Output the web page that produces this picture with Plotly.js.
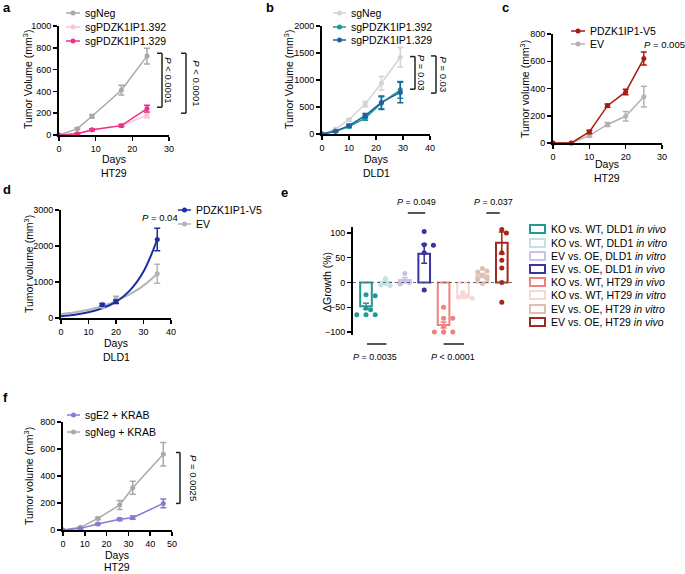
<!DOCTYPE html>
<html><head><meta charset="utf-8">
<script src="https://cdn.plot.ly/plotly-3.0.1.min.js"></script>
<style>html,body{margin:0;padding:0;background:#fff}#chart{width:685px;height:574px}</style>
</head><body><div id="chart"></div>
<script>
// ================= DATA =================
// Panel a – HT29, knockout
const aDays = [0, 5, 9, 17, 24];
const aNeg = [0, 58, 172, 411, 724];
const aNegErr = [0, 8, 15, 45, 72];
const a392 = [0, 10, 45, 88, 180];
const a392Err = [0, 4, 8, 12, 25];
const a329 = [0, 12, 49, 86, 242];
const a329Err = [0, 4, 8, 10, 32];
const aNames = ['sgNeg', 'sgPDZK1IP1.392', 'sgPDZK1IP1.329'];
const aXTicks = [0, 10, 20, 30];
const aYTicks = [0, 200, 400, 600, 800, 1000];
const aPText = ['<i>P</i> < 0.0001', '<i>P</i> < 0.0001'];

// Panel b – DLD1, knockout
const bDays = [0, 5, 10, 16, 22, 29];
const bNeg = [0, 92, 265, 554, 941, 1421];
const bNegErr = [0, 12, 18, 50, 125, 180];
const b392 = [0, 50, 140, 295, 572, 818];
const b392Err = [0, 10, 25, 40, 120, 155];
const b329 = [0, 50, 155, 340, 585, 770];
const b329Err = [0, 10, 25, 40, 120, 190];
const bNames = ['sgNeg', 'sgPDZK1IP1.392', 'sgPDZK1IP1.329'];
const bXTicks = [0, 10, 20, 30, 40];
const bYTicks = [0, 500, 1000, 1500, 2000];
const bPText = ['<i>P</i> = 0.03', '<i>P</i> = 0.03'];

// Panel c – HT29, overexpression
const cDays = [0, 5, 10, 15, 20, 25];
const cV5 = [0, 0, 81, 274, 375, 620];
const cV5Err = [0, 0, 12, 12, 20, 48];
const cEV = [0, 0, 54, 136, 196, 340];
const cEVErr = [0, 0, 8, 15, 35, 76];
const cNames = ['PDZK1IP1-V5', 'EV'];
const cXTicks = [0, 10, 20, 30];
const cYTicks = [0, 200, 400, 600, 800];
const cPText = '<i>P</i> = 0.005';

// Panel d – DLD1, overexpression (points + fitted growth curves)
const dDays = [15, 20, 35];
const dV5 = [370, 450, 2180];
const dV5Err = [30, 50, 310];
const dEV = [320, 540, 1230];
const dEVErr = [30, 65, 265];
const dFitDays = [0, 5, 10, 15, 20, 25, 30, 35];
const dFitV5 = [50, 90, 160, 270, 450, 760, 1290, 2180];
const dFitEV = [110, 160, 230, 330, 470, 660, 900, 1230];
const dNames = ['PDZK1IP1-V5', 'EV'];
const dXTicks = [0, 10, 20, 30, 40];
const dYTicks = [0, 1000, 2000, 3000];
const dPText = '<i>P</i> = 0.04';

// Panel e – ΔGrowth
const eLabels = [
  'KO vs. WT, DLD1 <i>in vivo</i>',
  'KO vs. WT, DLD1 <i>in vitro</i>',
  'EV vs. OE, DLD1 <i>in vitro</i>',
  'EV vs. OE, DLD1 <i>in vivo</i>',
  'KO vs. WT, HT29 <i>in vivo</i>',
  'KO vs. WT, HT29 <i>in vitro</i>',
  'EV vs. OE, HT29 <i>in vitro</i>',
  'EV vs. OE, HT29 <i>in vivo</i>'
];
const eMeans = [-48, 1, 5, 58, -86, -28, 14, 80];
const eErr = [6, 4, 5, 19, 6, 4, 4, 22];
const ePoints = [
  [-25, -27, -52, -55, -65, -65, -65],
  [8, -2, -6, -5],
  [18, 3, 0, -3],
  [103, 76, 75, 60, -15],
  [-50, -72, -72, -88, -100, -100, -100, -100],
  [-20, -28, -30, -32],
  [28, 23, 21, 14, 8, 7, -2],
  [107, 100, 60, 45, 29, 0, -40]
];
const eYTicks = [-100, -50, 0, 50, 100];
const ePText = ['<i>P</i> = 0.0035', '<i>P</i> = 0.049', '<i>P</i> < 0.0001', '<i>P</i> = 0.037'];

// Panel f – HT29, CRISPRi
const fDays = [0, 8, 16, 26, 32, 46];
const fE2 = [0, 12, 44, 79, 91, 197];
const fE2Err = [0, 4, 6, 8, 12, 33];
const fNeg = [0, 20, 86, 185, 313, 561];
const fNegErr = [0, 5, 8, 34, 49, 87];
const fNames = ['sgE2 + KRAB', 'sgNeg + KRAB'];
const fXTicks = [0, 10, 20, 30, 40, 50];
const fYTicks = [0, 200, 400, 600, 800];
const fPText = '<i>P</i> = 0.0025';

// ================= STYLE / GEOMETRY =================
const W = 685, H = 574;
const F = 'Liberation Sans, Arial, Helvetica, sans-serif';
const COL = {
  grey: '#a9a9a9', lightGrey: '#d4d4d4', pinkLight: '#f8c4da', pink: '#ee3188',
  teal: '#1c9a95', blue: '#1d62a0', red: '#a51d12', evGrey: '#b3b3b3',
  navy: '#1b2fa3', purple: '#8a78d8',
  e: ['#1f9a94', '#bfe4e1', '#c6c2e8', '#3a33a0', '#f2807c', '#f9d6d6', '#dfbfb2', '#a3281c']
};
const geo = {
  a: {x: [59, 169], y: [135, 26], xr: [0, 30], yr: [0, 1000]},
  b: {x: [322, 430], y: [134, 26], xr: [0, 40], yr: [0, 2000]},
  c: {x: [553, 662], y: [143, 34], xr: [0, 30], yr: [0, 800]},
  d: {x: [61, 171], y: [318, 210], xr: [0, 40], yr: [0, 3000]},
  e: {x: [353, 515], y: [335, 227], xr: [0.33, 8.68], yr: [-106, 112]},
  f: {x: [63, 172], y: [530, 422], xr: [0, 50], yr: [0, 800]}
};
const px = x => x / W;
const py = y => 1 - y / H;
const X = (p, v) => { const g = geo[p]; return g.x[0] + (v - g.xr[0]) / (g.xr[1] - g.xr[0]) * (g.x[1] - g.x[0]); };
const Y = (p, v) => { const g = geo[p]; return g.y[0] + (v - g.yr[0]) / (g.yr[1] - g.yr[0]) * (g.y[1] - g.y[0]); };

const axBase = {
  showline: true, linecolor: '#000', linewidth: 2, ticks: 'outside', ticklen: 4, tickwidth: 1.5,
  tickcolor: '#000', tickfont: {size: 9, family: F, color: '#000'}, showgrid: false, zeroline: false,
  fixedrange: true
};
function xAxis(p, ticks, anchor) {
  const g = geo[p];
  return Object.assign({}, axBase, {domain: [px(g.x[0]), px(g.x[1])], range: g.xr, anchor, tickvals: ticks});
}
function yAxis(p, ticks, anchor) {
  const g = geo[p];
  return Object.assign({}, axBase, {domain: [py(g.y[0]), py(g.y[1])], range: g.yr, anchor, tickvals: ticks});
}

// ================= TRACES =================
const traces = [];
function line(xa, ya, x, y, err, color, name) {
  traces.push({
    type: 'scatter', mode: 'lines+markers', x, y, name, xaxis: xa, yaxis: ya, showlegend: false,
    line: {color, width: 1.5}, marker: {color, size: 5}, cliponaxis: false,
    error_y: {type: 'data', array: err, visible: true, color, thickness: 1.5, width: 3}
  });
}
line('x', 'y', aDays, aNeg, aNegErr, COL.grey, aNames[0]);
line('x', 'y', aDays, a392, a392Err, COL.pinkLight, aNames[1]);
line('x', 'y', aDays, a329, a329Err, COL.pink, aNames[2]);

line('x2', 'y2', bDays, bNeg, bNegErr, COL.lightGrey, bNames[0]);
line('x2', 'y2', bDays, b392, b392Err, COL.teal, bNames[1]);
line('x2', 'y2', bDays, b329, b329Err, COL.blue, bNames[2]);

line('x3', 'y3', cDays, cEV, cEVErr, COL.evGrey, cNames[1]);
line('x3', 'y3', cDays, cV5, cV5Err, COL.red, cNames[0]);

// panel d: fitted curves + points
function fit(x, y, color, name) {
  traces.push({type: 'scatter', mode: 'lines', x, y, name: name + ' fit', xaxis: 'x4', yaxis: 'y4',
    showlegend: false, line: {color, width: 2, shape: 'spline', smoothing: 1}, cliponaxis: false});
}
function pts(x, y, err, color, name) {
  traces.push({type: 'scatter', mode: 'markers', x, y, name, xaxis: 'x4', yaxis: 'y4', showlegend: false,
    marker: {color, size: 5}, cliponaxis: false,
    error_y: {type: 'data', array: err, visible: true, color, thickness: 1.5, width: 3}});
}
fit(dFitDays, dFitEV, COL.evGrey, dNames[1]);
fit(dFitDays, dFitV5, COL.navy, dNames[0]);
pts(dDays, dEV, dEVErr, COL.evGrey, dNames[1]);
pts(dDays, dV5, dV5Err, COL.navy, dNames[0]);

// panel e: bars + dots
const eUnit = (geo.e.x[1] - geo.e.x[0]) / (geo.e.xr[1] - geo.e.xr[0]);
function swarm(vals) {
  const placed = [];
  return vals.map(v => {
    const yp = Y('e', v);
    for (const k of [0, 1, -1, 2, -2, 3, -3]) {
      const xo = k * 4.6;
      if (placed.every(p => Math.hypot(p[0] - xo, p[1] - yp) >= 4.8)) { placed.push([xo, yp]); return xo / eUnit; }
    }
    return 0;
  });
}
eMeans.forEach((m, i) => {
  traces.push({type: 'bar', x: [i + 1], y: [m], width: 0.6, name: eLabels[i], xaxis: 'x5', yaxis: 'y5',
    showlegend: false, marker: {color: 'rgba(255,255,255,0)', line: {color: COL.e[i], width: 2}},
    error_y: {type: 'data', array: [eErr[i]], visible: true, color: COL.e[i], thickness: 1.5, width: 3}});
});
ePoints.forEach((vals, i) => {
  const off = swarm(vals);
  traces.push({type: 'scatter', mode: 'markers', x: vals.map((v, j) => i + 1 + off[j]), y: vals,
    name: eLabels[i] + ' points', xaxis: 'x5', yaxis: 'y5', showlegend: false, cliponaxis: false,
    marker: {color: COL.e[i], size: 5}});
});

line('x6', 'y6', fDays, fNeg, fNegErr, COL.grey, fNames[1]);
line('x6', 'y6', fDays, fE2, fE2Err, COL.purple, fNames[0]);

// ================= ANNOTATIONS & SHAPES =================
const annotations = [];
const shapes = [];
function ann(x, y, text, o) {
  annotations.push(Object.assign({xref: 'paper', yref: 'paper', x: px(x), y: py(y), text, showarrow: false,
    xanchor: 'center', yanchor: 'middle', font: {family: F, size: 10.5, color: '#000'}}, o || {}));
}
function seg(x0, y0, x1, y1, color, width, dash) {
  shapes.push({type: 'line', xref: 'paper', yref: 'paper', x0: px(x0), y0: py(y0), x1: px(x1), y1: py(y1),
    line: {color, width: width || 1.5, dash: dash || 'solid'}});
}
function bracket(xv, tick, yTop, yBot) {
  seg(xv - tick, yTop, xv, yTop, '#222', 1.5);
  seg(xv, yTop, xv, yBot, '#222', 1.5);
  seg(xv - tick, yBot, xv, yBot, '#222', 1.5);
}
function legLine(x0, x1, y, color, text) {
  seg(x0, y, x1, y, color, 1.5);
  const cx = (x0 + x1) / 2, r = 2.5;
  shapes.push({type: 'circle', xref: 'paper', yref: 'paper', x0: px(cx - r), x1: px(cx + r), y0: py(y + r), y1: py(y - r),
    fillcolor: color, line: {color, width: 0}});
  ann(x1 + 3, y, text, {xanchor: 'left'});
}
const letter = (x, y, t) => ann(x, y, '<b>' + t + '</b>', {xanchor: 'left', font: {family: F, size: 13, color: '#000'}});
const ytitle = (x, y, t) => ann(x, y, t, {textangle: -90});

// panel a
letter(1, 7, 'a');
legLine(66, 80, 13, COL.grey, aNames[0]);
legLine(66, 80, 27, COL.pinkLight, aNames[1]);
legLine(66, 80, 41, COL.pink, aNames[2]);
ytitle(28, 80, 'Tumor Volume (mm<sup>3</sup>)');
ann(114, 159, 'Days'); ann(114, 173, 'HT29');
bracket(162, 5, Y('a', 750), Y('a', 255));
bracket(186, 5, Y('a', 750), Y('a', 200));
ann(169, (Y('a', 750) + Y('a', 255)) / 2, aPText[0], {textangle: 90, font: {family: F, size: 9.5, color: '#000'}});
ann(197, (Y('a', 750) + Y('a', 200)) / 2, aPText[1], {textangle: 90, font: {family: F, size: 9.5, color: '#000'}});

// panel b
letter(264, 7, 'b');
legLine(333, 346, 13, COL.lightGrey, bNames[0]);
legLine(333, 346, 27, COL.teal, bNames[1]);
legLine(333, 346, 40, COL.blue, bNames[2]);
ytitle(289, 80, 'Tumor Volume (mm<sup>3</sup>)');
ann(376, 159, 'Days'); ann(376, 173, 'DLD1');
bracket(415, 5, Y('b', 1434), Y('b', 830));
bracket(436, 5, Y('b', 1446), Y('b', 757));
ann(421, (Y('b', 1434) + Y('b', 830)) / 2, bPText[0], {textangle: 90, font: {family: F, size: 9.5, color: '#000'}});
ann(443, (Y('b', 1446) + Y('b', 757)) / 2, bPText[1], {textangle: 90, font: {family: F, size: 9.5, color: '#000'}});

// panel c
letter(500, 7, 'c');
legLine(571, 585, 31, COL.red, cNames[0]);
legLine(571, 585, 44, COL.evGrey, cNames[1]);
ann(664, 44, cPText, {font: {family: F, size: 9.5, color: '#000'}});
ytitle(525, 89, 'Tumor volume (mm<sup>3</sup>)');
ann(607, 164, 'Days'); ann(607, 178, 'HT29');

// panel d
letter(1, 190, 'd');
legLine(178, 191, 210, COL.navy, dNames[0]);
legLine(178, 191, 224, COL.evGrey, dNames[1]);
ann(160, 217, dPText, {font: {family: F, size: 9.5, color: '#000'}});
ytitle(28, 264, 'Tumor volume (mm<sup>3</sup>)');
ann(116, 343, 'Days'); ann(116, 357, 'DLD1');

// panel e
letter(279, 192, 'e');
ytitle(327, 282, 'ΔGrowth (%)');
seg(geo.e.x[0], Y('e', 0), geo.e.x[1], Y('e', 0), '#666', 1, 'dot');
const eBarX = i => X('e', i + 1);
seg(eBarX(2) + 3, 213, eBarX(3) + 1, 213, '#555', 2);
seg(eBarX(6) + 4, 213, eBarX(7) - 2, 213, '#555', 2);
seg(eBarX(0) + 1, 344, eBarX(1) + 1, 344, '#555', 2);
seg(eBarX(4), 344, eBarX(5) + 1, 344, '#555', 2);
ann(375, 357, ePText[0], {font: {family: F, size: 9, color: '#000'}});
ann(416, 202, ePText[1], {font: {family: F, size: 9, color: '#000'}});
ann(453, 357, ePText[2], {font: {family: F, size: 9, color: '#000'}});
ann(493, 202, ePText[3], {font: {family: F, size: 9, color: '#000'}});
const eLegY = [229, 243, 256, 269, 282, 295, 309, 322];
eLabels.forEach((t, i) => {
  shapes.push({type: 'rect', xref: 'paper', yref: 'paper', x0: px(530), x1: px(545), y0: py(eLegY[i] + 4), y1: py(eLegY[i] - 4),
    line: {color: COL.e[i], width: 2}, fillcolor: 'rgba(255,255,255,0)'});
  ann(549, eLegY[i], t, {xanchor: 'left'});
});

// panel f
letter(1, 397, 'f');
legLine(67, 80, 415, COL.purple, fNames[0]);
legLine(67, 80, 432, COL.grey, fNames[1]);
ytitle(28, 476, 'Tumor volume (mm<sup>3</sup>)');
ann(117, 555, 'Days'); ann(117, 567, 'HT29');
bracket(180, 4, Y('f', 574), Y('f', 197));
ann(193, (Y('f', 574) + Y('f', 197)) / 2, fPText, {textangle: 90, font: {family: F, size: 9.5, color: '#000'}});

// ================= LAYOUT =================
const layout = {
  width: W, height: H, margin: {l: 0, r: 0, t: 0, b: 0}, showlegend: false,
  paper_bgcolor: '#fff', plot_bgcolor: 'rgba(0,0,0,0)', barmode: 'overlay',
  font: {family: F, size: 10.5, color: '#000'},
  xaxis: xAxis('a', aXTicks, 'y'), yaxis: yAxis('a', aYTicks, 'x'),
  xaxis2: xAxis('b', bXTicks, 'y2'), yaxis2: yAxis('b', bYTicks, 'x2'),
  xaxis3: xAxis('c', cXTicks, 'y3'), yaxis3: yAxis('c', cYTicks, 'x3'),
  xaxis4: xAxis('d', dXTicks, 'y4'), yaxis4: yAxis('d', dYTicks, 'x4'),
  xaxis5: Object.assign(xAxis('e', [], 'y5'), {visible: false, showticklabels: false}), yaxis5: yAxis('e', eYTicks, 'x5'),
  xaxis6: xAxis('f', fXTicks, 'y6'), yaxis6: yAxis('f', fYTicks, 'x6'),
  annotations, shapes
};
Plotly.newPlot('chart', traces, layout, {staticPlot: true, displayModeBar: false});
</script></body></html>
